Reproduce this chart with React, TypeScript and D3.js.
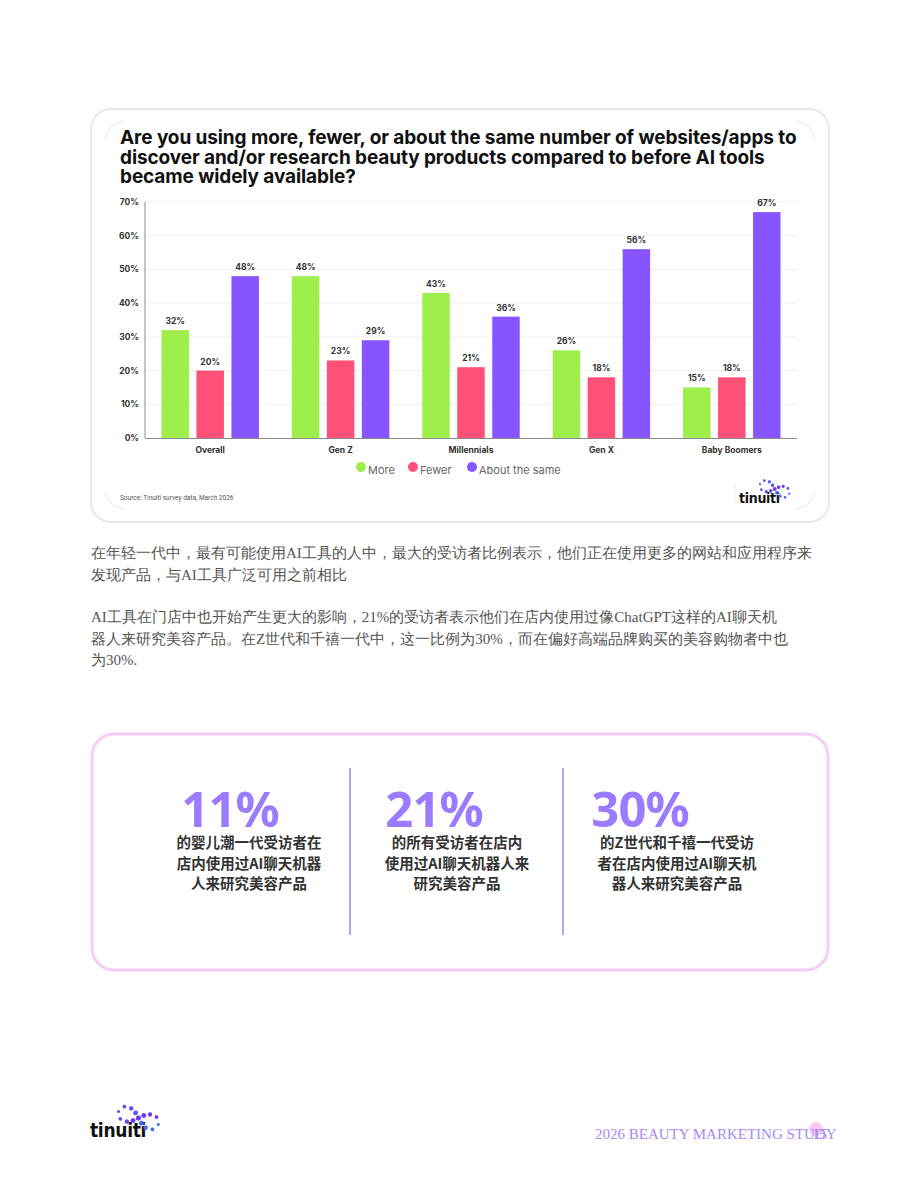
import React from 'react';
import * as d3 from 'd3';

// chart data
const categories = ['Overall', 'Gen Z', 'Millennials', 'Gen X', 'Baby Boomers'];
const seriesNames = ['More', 'Fewer', 'About the same'];
const moreValues = [32, 48, 43, 26, 15];
const fewerValues = [20, 23, 21, 18, 18];
const sameValues = [48, 29, 36, 56, 67];
const yTicks = [0, 10, 20, 30, 40, 50, 60, 70];
const seriesColors = ['#9fef4c', '#ff5177', '#8655ff'];

const titleLines = [
  'Are you using more, fewer, or about the same number of websites/apps to',
  'discover and/or research beauty products compared to before AI tools',
  'became widely available?',
];

const paraOne = [
  '在年轻一代中，最有可能使用AI工具的人中，最大的受访者比例表示，他们正在使用更多的网站和应用程序来',
  '发现产品，与AI工具广泛可用之前相比',
];
const paraTwo = [
  'AI工具在门店中也开始产生更大的影响，21%的受访者表示他们在店内使用过像ChatGPT这样的AI聊天机',
  '器人来研究美容产品。在Z世代和千禧一代中，这一比例为30%，而在偏好高端品牌购买的美容购物者中也',
  '为30%.',
];

const statNumbers = ['11%', '21%', '30%'];
const statTexts = [
  ['的婴儿潮一代受访者在', '店内使用过AI聊天机器', '人来研究美容产品'],
  ['的所有受访者在店内', '使用过AI聊天机器人来', '研究美容产品'],
  ['的Z世代和千禧一代受访', '者在店内使用过AI聊天机', '器人来研究美容产品'],
];

const W = 920;
const H = 1191;

function Logo({ x, y, size }: { x: number; y: number; size: number }) {
  // dotted infinity mark
  const dots = d3.range(16).map((i) => {
    const t = (i / 16) * Math.PI * 2;
    const s = Math.sin(t);
    const c = Math.cos(t);
    const den = 1 + s * s;
    return { px: c / den, py: (s * c) / den, i };
  });
  const color = d3.scaleLinear<string>().domain([0, 15]).range(['#3f6ff0', '#7a2ff0']);
  const k = size;
  return (
    <g>
      <text x={x} y={y} fontFamily="'Liberation Sans Narrow', 'DejaVu Sans Condensed', Roboto, sans-serif"
        fontWeight={700} fontSize={k} fill="#111" letterSpacing={-0.3}>tinuiti</text>
      <g transform={`translate(${x + k * 2.55},${y - k * 1.0}) rotate(18)`}>
        {dots.map((d) => (
          <circle key={d.i} cx={d.px * k * 1.1} cy={d.py * k * 1.1}
            r={k * (0.08 + 0.05 * Math.abs(Math.sin((d.i / 16) * Math.PI * 2)))}
            fill={color(d.i)} />
        ))}
      </g>
    </g>
  );
}

export default function App() {
  const y = d3.scaleLinear().domain([0, 70]).range([438, 202]);
  const x0 = d3.scaleBand<string>().domain(categories).range([145, 797])
    .paddingInner(0.195).paddingOuter(0.0975);
  const x1 = d3.scaleBand<string>().domain(seriesNames).range([0, x0.bandwidth()])
    .paddingInner(0.214).paddingOuter(0.107);
  const series = [moreValues, fewerValues, sameValues];

  const statCenters = [249, 457, 677];
  const numberCenters = [230, 434, 640];

  const legendX = [361, 413, 472];

  return (
    <svg width={W} height={H} style={{ position: 'absolute', left: 0, top: 0 }}
      fontFamily="Inter, 'Noto Sans', sans-serif">
      <rect x={0} y={0} width={W} height={H} fill="#fff" />

      {/* chart card */}
      <rect x={91} y={109} width={738} height={413} rx={20} fill="#fff" stroke="#e4e4e4" strokeWidth={1.5} />
      <path d="M105,140 A22,22 0 0 1 124,121" fill="none" stroke="#e8e8e8" />
      <path d="M796,121 A22,22 0 0 1 815,140" fill="none" stroke="#e8e8e8" />
      <path d="M105,490 A22,22 0 0 0 124,509" fill="none" stroke="#e8e8e8" />
      <path d="M796,509 A22,22 0 0 0 815,490" fill="none" stroke="#e8e8e8" />

      {titleLines.map((t, i) => (
        <text key={i} x={120} y={144 + i * 19.5} fontSize={19} fontWeight={700} fill="#111"
          letterSpacing={-0.1}>{t}</text>
      ))}

      {/* grid + y ticks */}
      {yTicks.map((t) => (
        <g key={t}>
          {t > 0 && <line x1={146} x2={797} y1={y(t)} y2={y(t)} stroke="#f1f1f1" strokeWidth={1} />}
          <text x={139} y={y(t) + 3} textAnchor="end" fontSize={8.5} fontWeight={700} fill="#333">{t}%</text>
        </g>
      ))}

      {/* bars */}
      {categories.map((c, ci) => (
        <g key={c} transform={`translate(${x0(c)},0)`}>
          {seriesNames.map((s, si) => {
            const v = series[si][ci];
            const bx = x1(s) as number;
            return (
              <g key={s}>
                <rect x={bx} y={y(v)} width={x1.bandwidth()} height={y(0) - y(v)} fill={seriesColors[si]} />
                <text x={bx + x1.bandwidth() / 2} y={y(v) - 6} textAnchor="middle" fontSize={8.5}
                  fontWeight={700} fill="#333">{v}%</text>
              </g>
            );
          })}
          <text x={x0.bandwidth() / 2} y={453} textAnchor="middle" fontSize={8.5} fontWeight={700} fill="#333">{c}</text>
        </g>
      ))}

      {/* axes */}
      <line x1={145} x2={145} y1={202} y2={438} stroke="#8a8a8a" strokeWidth={1} />
      <line x1={145} x2={797} y1={438.5} y2={438.5} stroke="#8a8a8a" strokeWidth={1} />

      {/* legend */}
      {seriesNames.map((s, i) => (
        <g key={s}>
          <circle cx={legendX[i]} cy={467} r={5} fill={seriesColors[i]} />
          <text x={legendX[i] + 7} y={474} fontSize={11} fill="#666">{s}</text>
        </g>
      ))}

      <text x={120} y={500} fontSize={6.5} fill="#555" fontFamily="Roboto, sans-serif">Source: Tinuiti survey data, March 2026</text>
      <line x1={735} x2={735} y1={484} y2={505} stroke="#eee" />
      <Logo x={739} y={503} size={14} />

      {/* paragraphs */}
      <g fontFamily="'Liberation Serif', serif" fontSize={15} fill="#555">
        {paraOne.map((t, i) => (
          <text key={i} x={91} y={558 + i * 21.5}>{t}</text>
        ))}
        {paraTwo.map((t, i) => (
          <text key={i} x={91} y={622 + i * 21.5}>{t}</text>
        ))}
      </g>

      {/* stats card */}
      <rect x={92} y={734} width={736} height={236} rx={22} fill="#fff" stroke="#f7cdf5" strokeWidth={3} />
      <line x1={350} x2={350} y1={768} y2={935} stroke="#9f83f5" strokeWidth={1.5} />
      <line x1={563} x2={563} y1={768} y2={935} stroke="#9f83f5" strokeWidth={1.5} />
      {statNumbers.map((n, i) => (
        <g key={n}>
          <text x={numberCenters[i]} y={827} textAnchor="middle" fontFamily="'Noto Sans', sans-serif"
            fontSize={49} fontWeight={700} fill="#9b7bff" letterSpacing={-1}>{n}</text>
          {statTexts[i].map((t, j) => (
            <text key={j} x={statCenters[i]} y={848 + j * 20.5} textAnchor="middle"
              fontFamily="'Noto Sans CJK SC', sans-serif" fontSize={14.5} fontWeight={700} fill="#333">{t}</text>
          ))}
        </g>
      ))}

      {/* footer */}
      <Logo x={90} y={1137} size={19} />
      <circle cx={816} cy={1129} r={7} fill="#f8c8f0" />
      <text x={595} y={1139} fontFamily="'Liberation Serif', serif" fontSize={15} fill="#a58af5">2026 BEAUTY MARKETING STUDY</text>
      <text x={812} y={1139} fontFamily="'Liberation Serif', serif" fontSize={15} fill="#a58af5">15</text>
    </svg>
  );
}
